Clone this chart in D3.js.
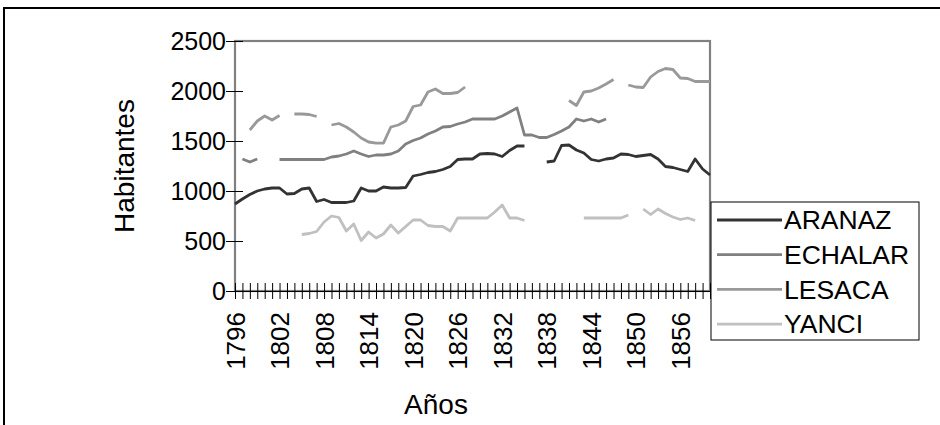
<!DOCTYPE html>
<html><head><meta charset="utf-8">
<script src="https://cdn.jsdelivr.net/npm/d3@7/dist/d3.min.js"></script>
<style>body{margin:0;background:#fff} svg{display:block}</style>
</head><body><svg id="c" width="940" height="425"></svg>
<script>
const years = [1796,1797,1798,1799,1800,1801,1802,1803,1804,1805,1806,1807,1808,1809,1810,1811,1812,1813,1814,1815,1816,1817,1818,1819,1820,1821,1822,1823,1824,1825,1826,1827,1828,1829,1830,1831,1832,1833,1834,1835,1836,1837,1838,1839,1840,1841,1842,1843,1844,1845,1846,1847,1848,1849,1850,1851,1852,1853,1854,1855,1856,1857,1858,1859,1860];
const xLabels = [1796,1802,1808,1814,1820,1826,1832,1838,1844,1850,1856];
const yTicks = [0,500,1000,1500,2000,2500];
const seriesNames = ["ARANAZ","ECHALAR","LESACA","YANCI"];
const seriesColors = ["#333333","#808080","#999999","#c0c0c0"];

const aranaz = [870,920,965,1000,1020,1030,1030,970,975,1020,1030,895,915,885,885,885,900,1030,1000,1000,1040,1030,1030,1035,1150,1165,1185,1195,1215,1245,1315,1320,1320,1370,1375,1370,1345,1405,1450,1450,null,null,1290,1300,1455,1460,1410,1380,1315,1300,1320,1330,1370,1365,1345,1355,1365,1320,1245,1235,1215,1195,1320,1220,1160];
const echalar = [null,1320,1290,1320,null,null,1315,1315,1315,1315,1315,1315,1315,1340,1350,1370,1400,1370,1345,1360,1360,1370,1400,1470,1505,1530,1570,1600,1640,1645,1670,1690,1720,1720,1720,1720,1750,1790,1830,1560,1560,1535,1535,1565,1600,1640,1720,1700,1720,1690,1720,null,null,null,null,null,null,null,null,null,null,null,null,null,null];
const lesaca = [null,null,1610,1700,1750,1710,1755,null,1770,1770,1765,1745,null,1660,1675,1640,1590,1530,1490,1478,1478,1640,1660,1700,1845,1860,1990,2020,1975,1975,1985,2040,null,null,null,null,null,null,null,null,null,null,null,null,null,1905,1855,1990,2000,2030,2070,2115,null,2060,2040,2035,2140,2195,2225,2215,2130,2125,2095,2095,2095];
const yanci = [null,null,null,null,null,null,null,null,null,565,575,595,690,750,735,600,670,505,590,530,570,660,580,645,710,710,655,645,645,600,730,730,730,730,730,790,860,730,730,705,null,null,null,null,null,null,null,730,730,730,730,730,730,760,null,820,765,820,775,740,715,730,705,null,null];
const seriesData = [aranaz, echalar, lesaca, yanci];

const FONT = "'Liberation Sans', Arial, Helvetica, sans-serif";
const svg = d3.select('#c').style('font-family', FONT);
const M = {left:235, right:710, top:41, bottom:291};
const x = d3.scalePoint().domain(years).range([M.left, M.right]);
const y = d3.scaleLinear().domain([0,2500]).range([M.bottom, M.top]);

// outer chart border
svg.append('rect').attr('x',4).attr('y',8).attr('width',1000).attr('height',1000)
  .attr('fill','none').attr('stroke','#000').attr('stroke-width',2);

// plot area border
svg.append('rect').attr('x',M.left).attr('y',M.top).attr('width',M.right-M.left).attr('height',M.bottom-M.top)
  .attr('fill','none').attr('stroke','#808080').attr('stroke-width',2.2);

// x axis
const xAxis = d3.axisBottom(x).tickValues(years).tickSizeInner(8).tickSizeOuter(0)
  .tickFormat(d => xLabels.includes(d) ? String(d) : '');
const gx = svg.append('g').attr('transform',`translate(0,${M.bottom})`).call(xAxis);
gx.select('.domain').attr('stroke','#000').attr('stroke-width',1);
gx.selectAll('.tick line').attr('y1',-8).attr('y2',8).attr('stroke','#000');
gx.selectAll('.tick text').attr('transform','rotate(-90)').attr('text-anchor','end')
  .attr('x',-21).attr('y',0).attr('dy','0.35em').attr('fill','#000')
  .style('font-size','26px').style('font-family',FONT);

// y axis
const yAxis = d3.axisLeft(y).tickValues(yTicks).tickSizeInner(9).tickSizeOuter(0).tickFormat(d=>String(d));
const gy = svg.append('g').attr('transform',`translate(${M.left},0)`).call(yAxis);
gy.select('.domain').remove();
gy.selectAll('.tick line').attr('x1',-9).attr('x2',8).attr('stroke','#000');
gy.selectAll('.tick text').attr('x',-9).attr('dy','0.35em').attr('fill','#000')
  .style('font-size','25px').style('font-family',FONT);

// lines
seriesData.forEach((data, si) => {
  const line = d3.line()
    .defined(d => d != null)
    .x((d,i) => x(years[i]))
    .y(d => y(d));
  svg.append('path').datum(data).attr('d', line)
    .attr('fill','none').attr('stroke', seriesColors[si]).attr('stroke-width',2.8)
    .attr('stroke-linejoin','round').attr('stroke-linecap','butt');
});

// axis titles
svg.append('text').attr('transform','translate(134,166) rotate(-90)').attr('text-anchor','middle')
  .style('font-size','28px').text('Habitantes');
svg.append('text').attr('x',436).attr('y',414).attr('text-anchor','middle')
  .style('font-size','28px').text('Años');

// legend
const lg = svg.append('g');
lg.append('rect').attr('x',711).attr('y',202).attr('width',208).attr('height',138)
  .attr('fill','#fff').attr('stroke','#000').attr('stroke-width',1);
seriesNames.forEach((name, i) => {
  const cy = 220 + i*34.7;
  lg.append('line').attr('x1',717).attr('x2',782).attr('y1',cy).attr('y2',cy)
    .attr('stroke',seriesColors[i]).attr('stroke-width',2.8);
  lg.append('text').attr('x',784).attr('y',cy).attr('dy','0.35em')
    .style('font-size','26.5px').text(name);
});
</script></body></html>
